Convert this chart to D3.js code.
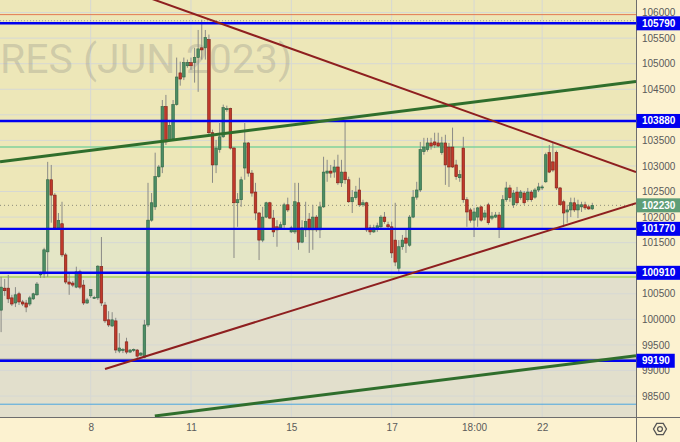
<!DOCTYPE html>
<html>
<head>
<meta charset="utf-8">
<script src="https://cdnjs.cloudflare.com/ajax/libs/d3/7.8.5/d3.min.js"></script>
<style>
  body { margin: 0; background: #fcf2d0; }
  svg { display: block; }
</style>
</head>
<body>
<div id="chart"></div>
<script>
// hourly candles (index = candle number)
const opens  = [100180,100610,100610,100420,100320,100500,100340,100320,100300,100400,100480,100870,100890,101320,102730,102430,101790,101870,101260,100730,100710,100630,100930,100670,100320,100460,100420,100420,101030,100280,99990,99870,99970,99380,99400,99560,99360,99400,99400,99300,99260,99890,101940,102200,102790,102980,104160,103510,103530,104200,104820,104740,104960,105020,105020,105120,105310,105310,105470,103650,103020,103320,103570,104100,104120,103350,102280,102340,102960,103450,102860,102490,102080,101550,102000,102280,101980,101810,101790,101850,102240,101710,101710,102280,101510,101750,101960,101750,102000,101750,102200,102860,102900,102880,102980,102670,102880,102730,102300,102380,102530,102240,102280,101790,101710,101770,101810,102000,101850,101810,101550,101000,101420,101590,101450,102000,102390,102530,103280,103320,103450,103470,103450,103260,103450,103370,103370,103020,102770,103350,102340,102140,101940,102000,102200,102000,102240,101980,102000,102040,101790,102340,102570,102240,102490,102380,102470,102340,102490,102390,102530,102570,102690,103260,103080,103260,102570,102300,102100,102140,102280,102140,102200,102240,102200,102160];
const highs  = [100830,100790,100870,100480,100630,100540,100380,100380,100460,100520,100730,100930,101400,103080,103020,102470,102080,102300,101300,100910,100750,101030,100970,100770,100420,100590,100460,101060,101610,100340,100160,100140,100030,99730,99440,99640,99420,99430,99420,99360,99990,102670,102470,103260,103020,104290,104390,103900,104290,105120,105040,105120,105080,105120,105310,105660,105860,105660,105570,103710,103510,103840,104200,104180,104140,103370,102470,102790,103840,103470,102920,102670,102100,102200,102300,102300,102140,101940,101910,102280,102380,101830,102670,102670,101940,102300,102080,102240,102040,102300,103180,103120,103020,103120,103220,103120,103860,102790,102530,102610,102770,102340,102300,101850,101850,101890,102040,102100,101910,101910,102280,101550,101650,101750,102040,102530,102690,103470,103550,103550,103550,103650,103650,103570,103610,103450,103750,103120,102920,103570,102390,102180,102180,102200,102220,102140,102280,102100,102100,102100,102430,102690,102630,102530,102590,102530,102510,102570,102530,102570,102670,102630,103260,103410,103450,103300,102590,102340,102240,102380,102380,102340,102300,102300,102240,102280];
const lows   = [99750,100460,100320,100260,100240,100280,100260,100140,100260,100380,100460,100810,100810,100830,101890,101750,101750,101220,100690,100480,100630,100610,100590,100280,100300,100420,100400,100380,100260,99930,99850,99850,99340,99340,99340,99320,99340,99360,99240,99280,99240,99850,101910,102140,102770,102860,103410,103490,103490,104180,104570,104680,104920,104880,104630,104450,105080,105080,103610,102670,102860,103260,103550,104060,103320,101200,101810,102200,102730,102790,102400,101940,101160,101510,101980,101960,101610,101420,101750,101790,102100,101690,101670,101360,101490,101610,101300,101360,101710,101590,102180,102690,102770,102770,102630,102590,102650,102280,102080,102340,102200,102200,101710,101650,101690,101710,101790,101870,101770,101200,101040,100930,101360,101300,101420,101980,102340,102490,103220,103280,103320,103350,103370,103220,102630,102590,102960,102730,102690,102280,101810,101890,101610,101810,101910,101940,101850,101940,101980,101590,101750,102300,102300,102180,102240,102340,102240,102300,102300,102360,102490,102530,102670,102860,102880,102530,102240,101810,101890,102000,102100,101980,102100,102140,102140,102140];
const closes = [100630,100560,100400,100300,100480,100340,100300,100240,100420,100500,100690,100890,101360,102730,102430,101790,101930,101260,100730,100690,100670,100930,100630,100320,100380,100580,100430,101040,100320,99970,99890,99990,99400,99440,99410,99360,99400,99410,99280,99340,99890,101940,102280,102790,102980,104160,103470,103790,104200,104740,104700,105020,105020,104960,105120,105290,105270,105510,103650,103020,103350,103570,104140,104120,103350,102280,102340,102730,103450,102860,102470,102080,101550,102000,102280,101980,101710,101750,101850,102240,102140,101790,102300,101510,101790,101910,101750,102000,101750,102200,102880,102900,102860,102980,102670,102880,102730,102300,102380,102490,102240,102280,101750,101710,101790,101830,102000,101910,101810,101300,101120,101420,101550,101490,102000,102390,102530,103320,103370,103450,103390,103410,103390,103450,103020,102980,102980,102790,102830,102340,102100,101940,102100,102180,101940,102080,101890,102020,102040,101790,102340,102570,102380,102470,102280,102490,102280,102490,102340,102530,102590,102590,103220,102880,102920,102570,102240,102080,102140,102280,102140,102240,102240,102180,102160,102230];

// time axis: candle index where each label sits
const tickIdx    = [25, 53, 81, 109, 132, 151];
const tickLabels = ["8", "11", "15", "17", "18:00", "22"];

// price grid every 500; labels hidden under the level badges are left out
const priceTicks = d3.range(98500, 106001, 500);
const priceLabels = priceTicks.filter(d => d !== 104000 && d !== 101000);

// horizontal levels
const blueLevels = [105790, 103880, 101770, 100910, 99190];
const thinLevels = [105960, 105840, 103370, 100830, 99220, 98340];
const lastPrice = 102230;

// background zones (price edges)
const zoneEdges = [106246, 101770, 100830, 98090];

// trend lines: [candle index, price]
const trendRedDown = [[40, 106320], [177.2, 102880]];
const trendRedUp   = [[29, 99030], [177.2, 102270]];
const trendGreenHi = [[-0.3, 103080], [177.2, 104650]];
const trendGreenLo = [[42.9, 98110], [177.2, 99290]];

const W = 680, H = 442, PW = 636, PH = 417;
const thinStyles = [
  {c: "#e37a52", w: 1, d: null},
  {c: "#9a9a9a", w: 1, d: "1,2"},
  {c: "#7fd29c", w: 1.5, d: null},
  {c: "#a9d15a", w: 1.5, d: null},
  {c: "#8a8a8a", w: 1, d: null},
  {c: "#4aa6e0", w: 1, d: null}
];
const zoneColors = ["#ede7b8", "#e4e6c6", "#e2dfcc"];

const svg = d3.select("#chart").append("svg").attr("width", W).attr("height", H);
svg.append("rect").attr("width", W).attr("height", H).attr("fill", "#fcf2d0");

const x = d3.scaleLinear().domain([0, 177.2]).range([1.1, PW]);
const y = d3.scaleLinear().domain([98090, 106246]).range([PH, 0]);

svg.append("defs").append("clipPath").attr("id", "plot")
  .append("rect").attr("width", PW).attr("height", PH);

const g = svg.append("g").attr("clip-path", "url(#plot)");

// zones
g.selectAll(".zone").data(zoneColors).enter().append("rect")
  .attr("x", 0).attr("width", PW)
  .attr("y", (d, i) => y(zoneEdges[i]))
  .attr("height", (d, i) => y(zoneEdges[i + 1]) - y(zoneEdges[i]))
  .attr("fill", d => d);

// grid
g.selectAll(".hg").data(priceTicks).enter().append("line")
  .attr("x1", 0).attr("x2", PW).attr("y1", d => y(d)).attr("y2", d => y(d))
  .attr("stroke", "#d6d8d4").attr("stroke-width", 1);
g.selectAll(".vg").data(tickIdx).enter().append("line")
  .attr("x1", d => x(d)).attr("x2", d => x(d)).attr("y1", 0).attr("y2", PH)
  .attr("stroke", "#d6d8d4").attr("stroke-width", 1);

// watermark
g.append("text").attr("x", 0).attr("y", 73)
  .style("font", "41px Roboto, sans-serif").attr("fill", "rgba(120,120,120,0.26)")
  .text("RES (JUN 2023)");

// thin levels
g.selectAll(".thin").data(thinLevels).enter().append("line")
  .attr("x1", 0).attr("x2", PW).attr("y1", d => y(d)).attr("y2", d => y(d))
  .attr("stroke", (d, i) => thinStyles[i].c).attr("stroke-width", (d, i) => thinStyles[i].w)
  .attr("stroke-dasharray", (d, i) => thinStyles[i].d);
g.append("line").attr("x1", 0).attr("x2", PW).attr("y1", y(lastPrice)).attr("y2", y(lastPrice))
  .attr("stroke", "#8c8c7a").attr("stroke-width", 1).attr("stroke-dasharray", "1,3");

// candles
const candles = d3.range(opens.length).map(i => ({i: i, o: opens[i], h: highs[i], l: lows[i], c: closes[i]}));
const bw = 2.6;
g.selectAll(".wick").data(candles).enter().append("line")
  .attr("x1", d => x(d.i)).attr("x2", d => x(d.i))
  .attr("y1", d => y(d.h)).attr("y2", d => y(d.l))
  .attr("stroke", "#8a8a86").attr("stroke-width", 1);
g.selectAll(".body").data(candles).enter().append("rect")
  .attr("x", d => x(d.i) - bw / 2).attr("width", bw)
  .attr("y", d => y(Math.max(d.o, d.c)))
  .attr("height", d => Math.max(1, Math.abs(y(d.o) - y(d.c))))
  .attr("fill", d => d.c >= d.o ? "#4c8d64" : "#c0392b")
  .attr("stroke", d => d.c >= d.o ? "#2f6544" : "#7d1d14").attr("stroke-width", 0.6);

// blue levels
g.selectAll(".blue").data(blueLevels).enter().append("line")
  .attr("x1", 0).attr("x2", PW).attr("y1", d => y(d)).attr("y2", d => y(d))
  .attr("stroke", "#0000f0").attr("stroke-width", 2.4);

// trend lines
const line = d3.line().x(d => x(d[0])).y(d => y(d[1]));
g.append("path").attr("d", line(trendGreenHi)).attr("stroke", "#2f6e2c").attr("stroke-width", 3).attr("fill", "none");
g.append("path").attr("d", line(trendGreenLo)).attr("stroke", "#2f6e2c").attr("stroke-width", 3).attr("fill", "none");
g.append("path").attr("d", line(trendRedDown)).attr("stroke", "#8e1f1f").attr("stroke-width", 2).attr("fill", "none");
g.append("path").attr("d", line(trendRedUp)).attr("stroke", "#8e1f1f").attr("stroke-width", 2).attr("fill", "none");

// axes
const ya = svg.append("g").attr("transform", `translate(${PW},0)`)
  .call(d3.axisRight(y).tickValues(priceLabels).tickSize(0).tickPadding(6).tickFormat(d3.format("d")));
ya.select(".domain").remove();
ya.selectAll("text").style("font", "10px 'Liberation Sans', Arial, sans-serif").attr("fill", "#5a5a5a");

const xa = svg.append("g").attr("transform", `translate(0,${PH})`)
  .call(d3.axisBottom(x).tickValues(tickIdx).tickFormat((d, i) => tickLabels[i]).tickSize(0).tickPadding(7));
xa.select(".domain").remove();
xa.selectAll("text").style("font", "10px 'Liberation Sans', Arial, sans-serif").attr("fill", "#5a5a5a");

svg.append("line").attr("x1", PW + 0.5).attr("x2", PW + 0.5).attr("y1", 0).attr("y2", H).attr("stroke", "#6d6d6d");
svg.append("line").attr("x1", 0).attr("x2", W).attr("y1", PH + 0.5).attr("y2", PH + 0.5).attr("stroke", "#6d6d6d");

// price badges
function badge(p, fill) {
  const bg = svg.append("g");
  const r = bg.append("rect").attr("x", PW + 0.5).attr("y", y(p) - 7).attr("height", 14).attr("fill", fill);
  const t = bg.append("text").attr("x", PW + 6).attr("y", y(p)).attr("dy", "0.35em")
    .style("font", "bold 10px 'Liberation Sans', Arial, sans-serif").attr("fill", "#fff").text(p);
  r.attr("width", t.node().getBBox().width + 10);
}
blueLevels.forEach(p => badge(p, "#0000f0"));
badge(lastPrice, "#5f9e77");

// settings icon
const ic = svg.append("g").attr("transform", `translate(660,429)`);
ic.append("path").attr("d", d3.range(6).map(k => {
    const a = Math.PI / 3 * k;
    return (k ? "L" : "M") + (6.5 * Math.cos(a)) + "," + (6.5 * Math.sin(a));
  }).join("") + "Z")
  .attr("fill", "none").attr("stroke", "#555").attr("stroke-width", 1.3);
ic.append("circle").attr("r", 2.4).attr("fill", "none").attr("stroke", "#555").attr("stroke-width", 1.3);
</script>
</body>
</html>
